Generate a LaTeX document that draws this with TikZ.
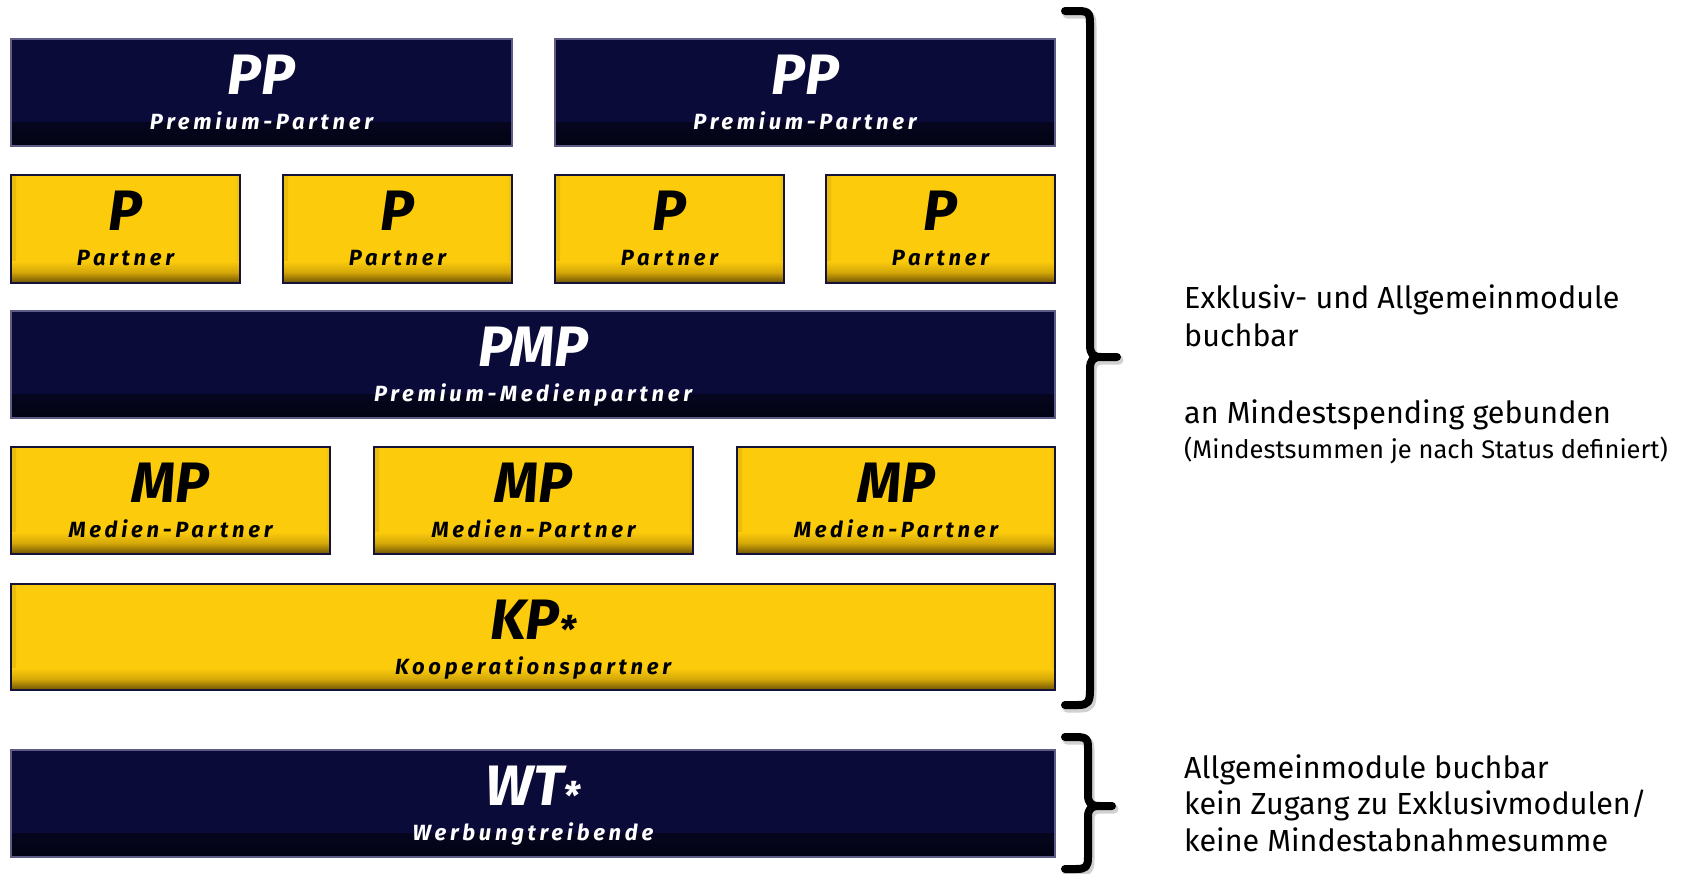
\documentclass[tikz,border=0pt]{standalone}
\usepackage{fontspec}
\setmainfont{Fira Sans}
\newfontfamily\subfont[LetterSpace=17]{Fira Sans}
\usetikzlibrary{calc}
\definecolor{navy}{HTML}{0B0B3A}
\definecolor{navymid}{HTML}{08082C}
\definecolor{navydark}{HTML}{030314}
\definecolor{navyedge}{HTML}{5E5C86}
\definecolor{gold}{HTML}{FCCB0C}
\definecolor{goldmid}{HTML}{D4A808}
\definecolor{golddark}{HTML}{6E5202}
\definecolor{goldside}{HTML}{EABD0A}
\definecolor{goldedge}{HTML}{15133A}
\tikzset{
  tier/.style={rectangle, inner sep=0pt, outer sep=0pt, anchor=north west, line width=1.3pt},
  navybox/.style={tier, draw=navyedge, fill=navy,
    path picture={
      \shade[top color=navy, bottom color=navydark, middle color=navymid]
        ([yshift=24pt]path picture bounding box.south west) rectangle (path picture bounding box.south east);}},
  goldbox/.style={tier, draw=goldedge, fill=gold,
    path picture={
      \shade[left color=goldside, right color=gold]
        (path picture bounding box.south west) rectangle ([xshift=5pt]path picture bounding box.north west);
      \shade[left color=gold, right color=goldside]
        ([xshift=-5pt]path picture bounding box.south east) rectangle (path picture bounding box.north east);
      \shade[top color=gold, bottom color=golddark, middle color=goldmid]
        ([yshift=22pt]path picture bounding box.south west) rectangle (path picture bounding box.south east);}},
  titletext/.style={anchor=base, inner sep=0pt, font=\fontsize{57}{60}\selectfont\bfseries\itshape},
  subtext/.style={anchor=base, inner sep=0pt, font=\fontsize{22}{26}\selectfont\subfont\bfseries\itshape},
  sidetext/.style={anchor=base west, inner sep=0pt, font=\fontsize{30.5}{34}\selectfont},
  smalltext/.style={anchor=base west, inner sep=0pt, font=\fontsize{25.5}{29}\selectfont},
  bracestroke/.style={line width=8pt, line cap=round, line join=round, black},
  braceshadow/.style={line width=9pt, line cap=round, line join=round, black, opacity=0.18}
}
% name, style, x1, y1, x2, y2, title, subtitle, text colour
\newcommand\tierbox[9]{%
  \node[#2, minimum width={(#5-#3)*1pt}, minimum height={(#6-#4)*1pt}] (#1) at (#3,#4) {};
  \node[titletext, text=#9] (#1-t) at ($(#1.north)+(0,55)$) {#7};
  \node[subtext, text=#9] (#1-s) at ($(#1.north)+(0,90)$) {#8};
}
\newcommand\starmark{\raisebox{-4pt}{\fontsize{38}{38}\selectfont *}}
\newcommand\bigbracepath{(1065,11) -- (1078,11) .. controls (1090,11) and (1090,14) .. (1090,26) -- (1090,345) .. controls (1090,354) and (1093,357) .. (1101,357) -- (1117,357)
  (1101,357) .. controls (1093,357) and (1090,360) .. (1090,369) -- (1090,690) .. controls (1090,702) and (1088,705) .. (1078,705) -- (1065,705)}
\newcommand\smallbracepath{(1065,737) -- (1076,737) .. controls (1088,737) and (1088,740) .. (1088,750) -- (1088,795) .. controls (1088,803) and (1091,806) .. (1099,806) -- (1112,806)
  (1099,806) .. controls (1091,806) and (1088,809) .. (1088,817) -- (1088,857) .. controls (1088,867) and (1086,869) .. (1076,869) -- (1065,869)}
\begin{document}
\begin{tikzpicture}[x=1pt, y=-1pt]
  \useasboundingbox[fill=white] (0,0) rectangle (1699,873);
  % row 1
  \tierbox{pp1}{navybox}{11}{39}{512}{146}{PP}{Premium-Partner}{white}
  \tierbox{pp2}{navybox}{555}{39}{1055}{146}{PP}{Premium-Partner}{white}
  % row 2
  \tierbox{p1}{goldbox}{11}{175}{240}{283}{P}{Partner}{black}
  \tierbox{p2}{goldbox}{283}{175}{512}{283}{P}{Partner}{black}
  \tierbox{p3}{goldbox}{555}{175}{784}{283}{P}{Partner}{black}
  \tierbox{p4}{goldbox}{826}{175}{1055}{283}{P}{Partner}{black}
  % row 3
  \tierbox{pmp}{navybox}{11}{311}{1055}{418}{PMP}{Premium-Medienpartner}{white}
  % row 4
  \tierbox{mp1}{goldbox}{11}{447}{330}{554}{MP}{Medien-Partner}{black}
  \tierbox{mp2}{goldbox}{374}{447}{693}{554}{MP}{Medien-Partner}{black}
  \tierbox{mp3}{goldbox}{737}{447}{1055}{554}{MP}{Medien-Partner}{black}
  % row 5
  \tierbox{kp}{goldbox}{11}{584}{1055}{690}{KP\starmark}{Kooperationspartner}{black}
  % row 6
  \tierbox{wt}{navybox}{11}{750}{1055}{857}{WT\starmark}{Werbungtreibende}{white}
  % braces
  \begin{scope}[shift={(2,3)}]
    \draw[braceshadow] \bigbracepath;
    \draw[braceshadow] \smallbracepath;
  \end{scope}
  \draw[bracestroke] \bigbracepath;
  \draw[bracestroke] \smallbracepath;
  % side texts
  \node[sidetext] (t1) at (1184,308) {Exklusiv- und Allgemeinmodule};
  \node[sidetext] (t2) at (1184,346) {buchbar};
  \node[sidetext] (t3) at (1184,423) {an Mindestspending gebunden};
  \node[smalltext] (t4) at (1184,458) {(Mindestsummen je nach Status definiert)};
  \node[sidetext] (t5) at (1184,778) {Allgemeinmodule buchbar};
  \node[sidetext] (t6) at (1184,814) {kein Zugang zu Exklusivmodulen/};
  \node[sidetext] (t7) at (1184,851) {keine Mindestabnahmesumme};
\end{tikzpicture}
\end{document}
